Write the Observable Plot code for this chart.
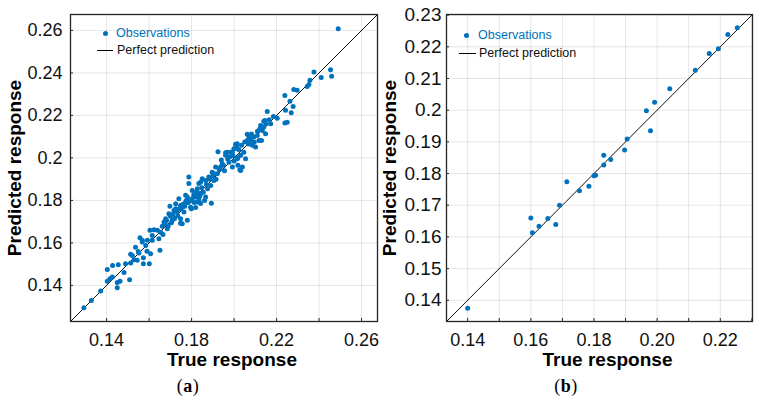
<!DOCTYPE html>
<html>
<head>
<meta charset="utf-8">
<script src="https://cdn.jsdelivr.net/npm/d3@7"></script>
<script src="https://cdn.jsdelivr.net/npm/@observablehq/plot@0.6"></script>
<style>
  html, body { margin: 0; padding: 0; background: #fff; }
  #fig { position: relative; width: 757px; height: 398px; font-family: "Liberation Sans", Arial, sans-serif; overflow: hidden; }
  .panel { position: absolute; top: 0; }
  .lg { position: absolute; font-size: 12.5px; line-height: 1; white-space: nowrap; transform: translateY(-50%); }
  .lg-dot { position: absolute; width: 5px; height: 5px; border-radius: 50%; background: #0072BD; }
  .lg-line { position: absolute; height: 1px; background: #000; }
  .cap { position: absolute; font-family: "Liberation Serif", "DejaVu Serif", serif; font-size: 18px; letter-spacing: 0.5px; transform: translate(-50%, -50%); }
</style>
</head>
<body>
<div id="fig"></div>
<script>
// (a) observations: true vs predicted response
const trueA = [
  0.1293,0.1328,0.1372,0.1403,0.1403,0.1416,0.1427,0.1428,0.1450,0.1450,
  0.1455,0.1463,0.1482,0.1489,0.1508,0.1513,0.1513,0.1521,0.1529,0.1536,
  0.1544,0.1549,0.1552,0.1557,0.1568,0.1568,0.1573,0.1573,0.1584,0.1590,
  0.1592,0.1601,0.1604,0.1607,0.1615,0.1615,0.1623,0.1639,0.1646,0.1651,
  0.1655,0.1662,0.1665,0.1670,0.1675,0.1678,0.1682,0.1686,0.1690,0.1693,
  0.1698,0.1700,0.1705,0.1709,0.1712,0.1717,0.1720,0.1725,0.1725,0.1730,
  0.1735,0.1740,0.1742,0.1748,0.1748,0.1748,0.1756,0.1756,0.1760,0.1764,
  0.1768,0.1772,0.1772,0.1775,0.1780,0.1780,0.1784,0.1787,0.1787,0.1792,
  0.1795,0.1799,0.1803,0.1803,0.1810,0.1812,0.1819,0.1819,0.1819,0.1825,
  0.1827,0.1827,0.1834,0.1834,0.1836,0.1839,0.1842,0.1842,0.1842,0.1848,
  0.1850,0.1855,0.1861,0.1866,0.1866,0.1870,0.1875,0.1881,0.1885,0.1890,
  0.1893,0.1897,0.1900,0.1905,0.1908,0.1913,0.1915,0.1921,0.1924,0.1930,
  0.1936,0.1940,0.1944,0.1950,0.1955,0.1960,0.1960,0.1968,0.1970,0.1976,
  0.1980,0.1984,0.1992,0.1992,0.1995,0.1999,0.2000,0.2007,0.2010,0.2015,
  0.2015,0.2015,0.2018,0.2018,0.2022,0.2027,0.2031,0.2031,0.2035,0.2039,
  0.2046,0.2050,0.2054,0.2062,0.2062,0.2068,0.2070,0.2078,0.2078,0.2082,
  0.2086,0.2093,0.2095,0.2101,0.2109,0.2110,0.2117,0.2120,0.2125,0.2129,
  0.2133,0.2140,0.2140,0.2145,0.2148,0.2150,0.2156,0.2165,0.2172,0.2185,
  0.2203,0.2239,0.2239,0.2242,0.2250,0.2263,0.2269,0.2278,0.2281,0.2297,
  0.2344,0.2352,0.2357,0.2376,0.2410,0.2454,0.2459,0.2490
];
const predA = [
  0.1295,0.1329,0.1373,0.1420,0.1475,0.1431,0.1439,0.1493,0.1413,0.1389,
  0.1497,0.1419,0.1461,0.1502,0.1427,0.1505,0.1546,0.1541,0.1521,0.1580,
  0.1518,0.1560,0.1552,0.1624,0.1612,0.1604,0.1530,0.1502,0.1588,0.1561,
  0.1612,0.1502,0.1659,0.1549,0.1612,0.1635,0.1662,0.1659,0.1620,0.1565,
  0.1650,0.1678,0.1640,0.1698,0.1690,0.1714,0.1705,0.1667,0.1680,0.1737,
  0.1772,0.1725,0.1695,0.1706,0.1735,0.1753,0.1715,0.1784,0.1761,0.1748,
  0.1728,0.1808,0.1760,0.1693,0.1714,0.1776,0.1768,0.1690,0.1782,0.1745,
  0.1772,0.1824,0.1792,0.1800,0.1816,0.1706,0.1790,0.1879,0.1910,0.1798,
  0.1768,0.1761,0.1808,0.1847,0.1825,0.1790,0.1832,0.1816,0.1766,0.1842,
  0.1855,0.1792,0.1800,0.1879,0.1815,0.1824,0.1886,0.1832,0.1785,0.1860,
  0.1902,0.1838,0.1800,0.1894,0.1816,0.1875,0.1855,0.1910,0.1900,0.1870,
  0.1787,0.1933,0.1915,0.1894,0.1925,0.1957,0.1900,0.1926,0.2029,0.1945,
  0.1957,0.1990,0.1973,0.1965,0.1940,0.2012,0.2024,0.2027,0.1995,0.1980,
  0.2005,0.2027,0.2027,0.1957,0.2010,0.2043,0.1985,0.2064,0.2052,0.2043,
  0.1996,0.2067,0.2001,0.1965,0.2040,0.1944,0.2012,0.1941,0.2060,0.1957,
  0.2027,0.2075,0.1996,0.2111,0.2082,0.2065,0.2098,0.2090,0.2082,0.2112,
  0.2059,0.2098,0.2075,0.2051,0.2106,0.2125,0.2082,0.2135,0.2153,0.2082,
  0.2129,0.2145,0.2173,0.2176,0.2114,0.2160,0.2219,0.2180,0.2161,0.2195,
  0.2187,0.2164,0.2294,0.2224,0.2168,0.2267,0.2213,0.2242,0.2322,0.2318,
  0.2336,0.2346,0.2365,0.2404,0.2379,0.2415,0.2384,0.2608
];

// (b) observations: true vs predicted response
const trueB = [
  0.1400,0.1600,0.1605,0.1626,0.1654,0.1679,0.1691,0.1714,0.1754,0.1784,
  0.1800,0.1805,0.1831,0.1831,0.1853,0.1897,0.1905,0.1966,0.1979,0.1992,
  0.2040,0.2121,0.2165,0.2194,0.2224,0.2254
];
const predB = [
  0.1375,0.1660,0.1613,0.1634,0.1658,0.1639,0.1700,0.1774,0.1746,0.1760,
  0.1793,0.1795,0.1858,0.1827,0.1844,0.1874,0.1909,0.1998,0.1935,0.2025,
  0.2068,0.2126,0.2179,0.2194,0.2239,0.2260
];

// Axis ranges, grid positions and labelled ticks
const domainA = [0.123, 0.2675];
const gridA = [0.14, 0.16, 0.18, 0.20, 0.22, 0.24, 0.26];
const xTicksA = [0.14, 0.18, 0.22, 0.26];
const yTicksA = [0.14, 0.16, 0.18, 0.20, 0.22, 0.24, 0.26];

const domainB = [0.1333, 0.2302];
const gridB = [0.14, 0.15, 0.16, 0.17, 0.18, 0.19, 0.20, 0.21, 0.22, 0.23];
const xTicksB = [0.14, 0.16, 0.18, 0.20, 0.22];
const yTicksB = [0.14, 0.15, 0.16, 0.17, 0.18, 0.19, 0.20, 0.21, 0.22, 0.23];

const xTitle = "True response";
const yTitle = "Predicted response";
const legendLabels = ["Observations", "Perfect prediction"];

const blue = "#0072BD";
const ink = "#262626";
const trim = d => String(+d.toFixed(2));      // 0.2, 0.14 ...
const fixed2 = d => d.toFixed(2);              // 0.20, 0.14 ...

function scatterPanel(o) {
  const pts = o.xs.map((x, i) => ({x, y: o.ys[i]}));
  return Plot.plot({
    width: o.width,
    height: 398,
    marginLeft: o.marginLeft,
    marginRight: o.marginRight,
    marginTop: 14,
    marginBottom: 77,
    x: {domain: o.domain},
    y: {domain: o.domain},
    style: {fontFamily: "'Liberation Sans', Arial, sans-serif", fontSize: "18px", color: ink, background: "white", overflow: "visible"},
    marks: [
      Plot.gridX(o.grid, {stroke: "#000", strokeOpacity: 0.1, strokeWidth: 1}),
      Plot.gridY(o.grid, {stroke: "#000", strokeOpacity: 0.1, strokeWidth: 1}),
      Plot.line(o.domain, {x: d => d, y: d => d, stroke: "#111", strokeWidth: 1, clip: true}),
      Plot.dot(pts, {x: "x", y: "y", r: 2.5, fill: blue, stroke: "none"}),
      Plot.axisX(o.grid, {tickSize: -3, tickFormat: () => "", stroke: ink, label: null}),
      Plot.axisY(o.grid, {tickSize: -3, tickFormat: () => "", stroke: ink, label: null}),
      Plot.axisX(o.xTicks, {tickSize: 0, tickPadding: 12, tickFormat: o.xFmt, fontSize: o.xFont, label: null, fill: "#111"}),
      Plot.axisY(o.yTicks, {tickSize: 0, tickPadding: o.yPad, tickFormat: o.yFmt, fontSize: o.yFont, label: null, fill: "#111"}),
      Plot.frame({stroke: ink, strokeWidth: 1.3}),
      Plot.text([xTitle], {text: d => d, frameAnchor: "bottom", textAnchor: "middle", lineAnchor: "middle", dx: 8, dy: 38, fontSize: 19, fontWeight: "bold", fill: "#000"}),
      Plot.text([yTitle], {text: d => d, frameAnchor: "left", textAnchor: "middle", lineAnchor: "middle", rotate: -90, dx: o.yTitleDx, fontSize: 19, fontWeight: "bold", fill: "#000"})
    ]
  });
}

const fig = document.getElementById("fig");

const a = scatterPanel({
  xs: trueA, ys: predA, domain: domainA, grid: gridA,
  xTicks: xTicksA, yTicks: yTicksA, xFmt: trim, yFmt: trim,
  width: 380, marginLeft: 70, marginRight: 3,
  xFont: 18, yFont: 18, yPad: 8, yTitleDx: -56
});
a.classList.add("panel");
a.style.left = "0px";
fig.appendChild(a);

const b = scatterPanel({
  xs: trueB, ys: predB, domain: domainB, grid: gridB,
  xTicks: xTicksB, yTicks: yTicksB, xFmt: fixed2, yFmt: trim,
  width: 377, marginLeft: 66, marginRight: 5,
  xFont: 18, yFont: 19, yPad: 5, yTitleDx: -57
});
b.classList.add("panel");
b.style.left = "380px";
fig.appendChild(b);

// In-axes legends
function legend(dotX, dotY, textX, lineX1, lineX2, lineY, text2X) {
  const dot = document.createElement("div");
  dot.className = "lg-dot";
  dot.style.left = (dotX - 2.5) + "px";
  dot.style.top = (dotY - 2.5) + "px";
  fig.appendChild(dot);

  const t1 = document.createElement("div");
  t1.className = "lg";
  t1.style.left = textX + "px";
  t1.style.top = dotY + "px";
  t1.style.color = blue;
  t1.textContent = legendLabels[0];
  fig.appendChild(t1);

  const ln = document.createElement("div");
  ln.className = "lg-line";
  ln.style.left = lineX1 + "px";
  ln.style.width = (lineX2 - lineX1) + "px";
  ln.style.top = (lineY - 0.5) + "px";
  fig.appendChild(ln);

  const t2 = document.createElement("div");
  t2.className = "lg";
  t2.style.left = text2X + "px";
  t2.style.top = lineY + "px";
  t2.style.color = "#111";
  t2.textContent = legendLabels[1];
  fig.appendChild(t2);
}
legend(105, 33, 116, 97, 113, 50, 117);
legend(466, 35, 478, 459, 476, 53, 479);

// Panel captions
[["a", 188], ["b", 566]].forEach(([k, x]) => {
  const c = document.createElement("div");
  c.className = "cap";
  c.style.left = x + "px";
  c.style.top = "386px";
  c.innerHTML = "(<b>" + k + "</b>)";
  fig.appendChild(c);
});
</script>
</body>
</html>
